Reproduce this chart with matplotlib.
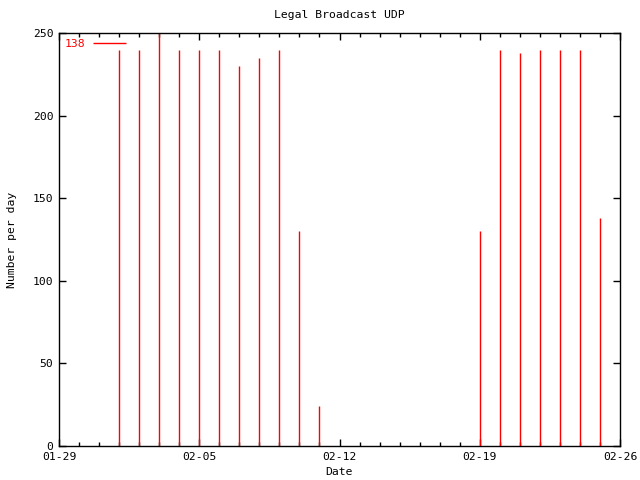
import datetime as dt
import matplotlib
matplotlib.use("Agg")
import matplotlib.pyplot as plt
import matplotlib.dates as mdates
from matplotlib.ticker import MultipleLocator

days = ["02-01", "02-02", "02-03", "02-04", "02-05", "02-06", "02-07", "02-08",
        "02-09", "02-10", "02-11", "02-19", "02-20", "02-21", "02-22", "02-23",
        "02-24", "02-25"]
counts = [240, 240, 250, 240, 240, 240, 230, 235, 240, 130, 24,
          130, 240, 238, 240, 240, 240, 138]

year = 2005
dates = [dt.datetime.strptime(f"{year}-{d}", "%Y-%m-%d") for d in days]

plt.rcParams['font.family'] = ['DejaVu Sans Mono']
plt.rcParams['font.size'] = 8.2

fig = plt.figure(figsize=(6.4, 4.8), dpi=100)
ax = fig.add_axes([59 / 640, 34 / 480, 561 / 640, 413 / 480])

ax.vlines(dates, 0, counts, color='red', lw=1, label="138")

ax.set_xlim(dt.datetime(year, 1, 29), dt.datetime(year, 2, 26))
ax.set_ylim(0, 250)
ax.xaxis.set_major_locator(mdates.DayLocator(bymonthday=[5, 12, 19, 26, 29]))
ax.xaxis.set_minor_locator(mdates.DayLocator())
ax.xaxis.set_major_formatter(mdates.DateFormatter("%m-%d"))
ax.yaxis.set_major_locator(MultipleLocator(50))

ax.tick_params(which='both', direction='in', top=True, right=True, width=1, pad=4)
ax.tick_params(which='major', length=5)
ax.tick_params(which='minor', length=3)
for s in ax.spines.values():
    s.set_linewidth(1)

fig.text(0.5 * (59 + 620) / 640, 1 - 15 / 480, "Legal Broadcast UDP",
         ha='center', va='center')
ax.set_xlabel("Date")
ax.xaxis.set_label_coords(0.5, (446 - 467) / 413)
ax.set_ylabel("Number per day")
ax.yaxis.set_label_coords((17 - 59) / 561, 0.5)

leg = ax.legend(loc='upper left', markerfirst=False, frameon=False,
                handlelength=2.9, borderaxespad=0.3, handletextpad=0.7,
                borderpad=0.2)
for t in leg.get_texts():
    t.set_color('red')

fig.savefig("out.png", dpi=100)
